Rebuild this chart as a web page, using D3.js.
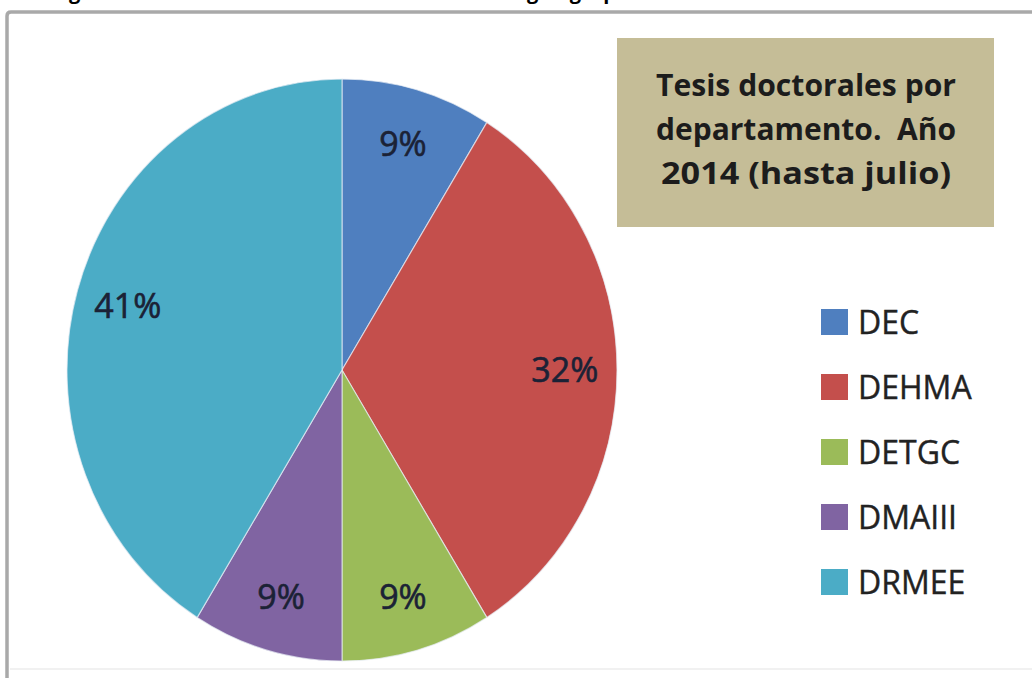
<!DOCTYPE html>
<html lang="es">
<head>
<meta charset="utf-8">
<title>Tesis doctorales por departamento</title>
<script src="https://cdnjs.cloudflare.com/ajax/libs/d3/7.8.5/d3.min.js"></script>
<style>
  body { margin:0; background:#fff; }
  svg { display:block; }
</style>
</head>
<body>
<svg id="chart" width="1032" height="678"></svg>
<script>
// data (counts give 9/32/9/9/41 %)
var departments = ["DEC", "DEHMA", "DETGC", "DMAIII", "DRMEE"];
var theses      = [3, 11, 3, 3, 14];
var colors      = ["#4f7fbf", "#c44f4c", "#9bbb59", "#8064a2", "#4bacc6"];
var titleLines  = ["Tesis doctorales por", "departamento.\u00a0 Año", "2014 (hasta julio)"];

var svg = d3.select("#chart");
var total = d3.sum(theses);

// caption of the page above, mostly cut off in the picture
svg.append("text").attr("x", 52).attr("y", -1)
  .attr("font-family", "Open Sans").attr("font-weight", "bold").attr("font-size", 20)
  .text("Figura 3. Tesis doctorales leídas en la escuela según grupo");

// outer frame (only top/left visible)
svg.append("path")
  .attr("d", "M7,678 V16 Q7,12 11,12 H1032")
  .attr("fill", "none").attr("stroke", "#a9a9a9").attr("stroke-width", 3.5);
svg.append("line").attr("x1", 10).attr("x2", 1032).attr("y1", 669).attr("y2", 669)
  .attr("stroke", "#f1f1f1").attr("stroke-width", 2);

// pie (the picture is slightly squashed horizontally)
var cx = 342, cy = 370, ry = 291, rx = 275;
var sx = rx / ry;

var pie = d3.pie().sort(null).value(function(d) { return d; });
var arcs = pie(theses);
var arc = d3.arc().innerRadius(0).outerRadius(ry);
var labelArc = d3.arc().innerRadius(ry * 0.81).outerRadius(ry * 0.81);

var g = svg.append("g").attr("transform", "translate(" + cx + "," + cy + ") scale(" + sx + ",1)");
g.selectAll("path").data(arcs).enter().append("path")
  .attr("d", arc)
  .attr("fill", function(d, i) { return colors[i]; })
  .attr("stroke", "#e8eef5").attr("stroke-width", 1.2).attr("stroke-opacity", 0.7);

svg.append("g").selectAll("text").data(arcs).enter().append("text")
  .attr("x", function(d) { return cx + labelArc.centroid(d)[0] * sx; })
  .attr("y", function(d) { return cy + labelArc.centroid(d)[1]; })
  .attr("dy", "0.36em")
  .attr("text-anchor", "middle")
  .attr("font-family", "Open Sans").attr("font-size", 34)
  .attr("stroke", "#1b2236").attr("stroke-width", 0.6)
  .attr("fill", "#1b2236")
  .text(function(d) { return Math.round(d.value / total * 100) + "%"; });

// title box
svg.append("rect").attr("x", 617).attr("y", 38).attr("width", 377).attr("height", 189)
  .attr("fill", "#c5bd97");
svg.append("g").selectAll("text").data(titleLines).enter().append("text")
  .attr("x", 806)
  .attr("y", function(d, i) { return 96 + i * 44; })
  .attr("text-anchor", "middle")
  .attr("font-family", "Open Sans").attr("font-weight", "bold").attr("font-size", 31)
  .attr("fill", "#1c1c1c")
  .attr("textLength", function(d, i) { return [300, 300, 290][i]; })
  .attr("lengthAdjust", "spacingAndGlyphs")
  .text(function(d) { return d; });

// legend
var leg = svg.append("g").selectAll("g").data(departments).enter().append("g")
  .attr("transform", function(d, i) { return "translate(821," + (322 + i * 65) + ")"; });
leg.append("rect").attr("x", 0).attr("y", -13).attr("width", 27).attr("height", 26)
  .attr("fill", function(d, i) { return colors[i]; });
leg.append("text").attr("x", 37).attr("y", 0).attr("dy", "0.36em")
  .attr("font-family", "Open Sans").attr("font-size", 32).attr("fill", "#222")
  .attr("stroke", "#222").attr("stroke-width", 0.4)
  .text(function(d) { return d; });
</script>
</body>
</html>
